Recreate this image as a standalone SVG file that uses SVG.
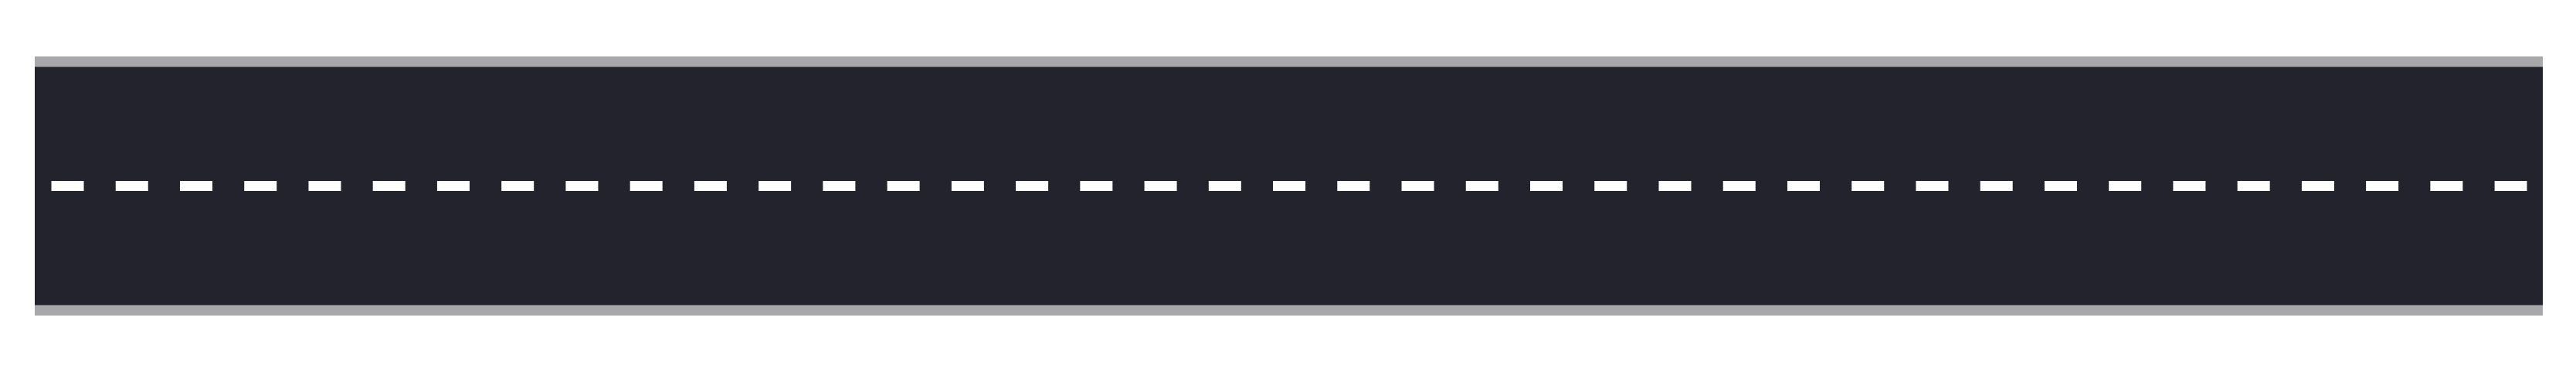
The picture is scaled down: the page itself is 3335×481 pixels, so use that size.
<svg xmlns="http://www.w3.org/2000/svg" width="3335" height="481" viewBox="0 0 3335 481">
<style>
.edge{fill:#a8a8ab}
.asphalt{fill:#23232d}
.lane{stroke:#ffffff;stroke-width:13;stroke-dasharray:42 41.24;fill:none}
</style>
<rect x="0" y="0" width="3335" height="481" fill="#ffffff"/>
<g id="road">
<rect class="asphalt" x="45" y="73" width="3247" height="335"/>
<rect class="edge" x="45" y="73" width="3247" height="13.5"/>
<rect class="edge" x="45" y="394.5" width="3247" height="13.5"/>
<line class="lane" x1="66.5" y1="240.6" x2="3271.5" y2="240.6"/>
</g>
</svg>
